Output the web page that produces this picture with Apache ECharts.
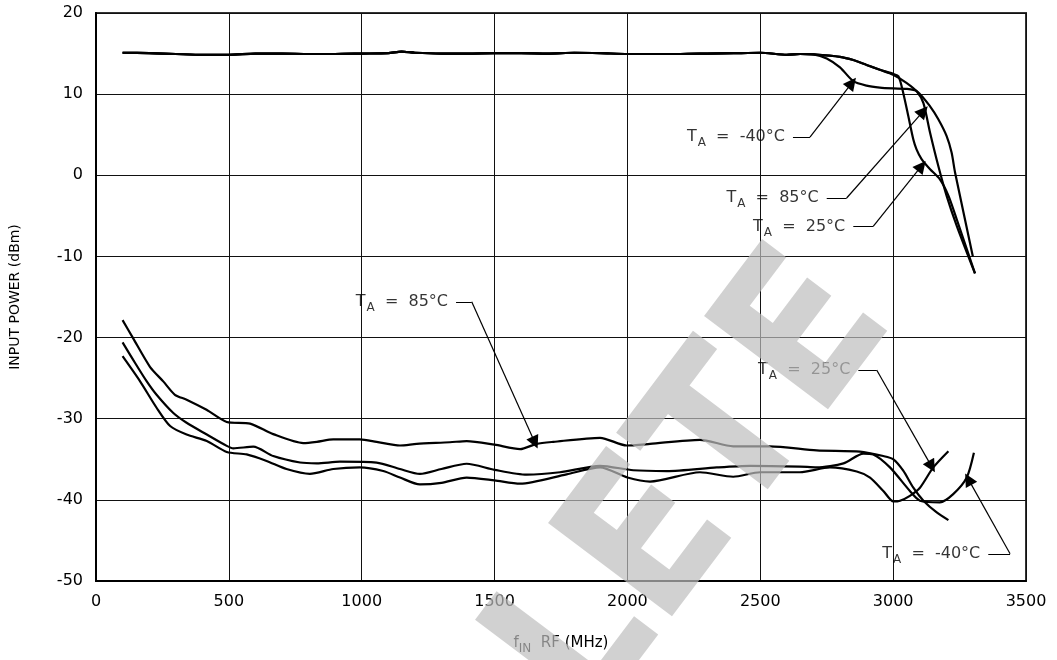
<!DOCTYPE html>
<html>
<head>
<meta charset="utf-8">
<script src="https://cdn.jsdelivr.net/npm/echarts@6/dist/echarts.min.js"></script>
<style>
html,body{margin:0;padding:0;background:#fff;}
#chart{width:1057px;height:660px;}
</style>
</head>
<body>
<div id="chart"></div>
<script>
// ---------- data ----------
const xTicks = [0, 500, 1000, 1500, 2000, 2500, 3000, 3500];
const yTicks = [-50, -40, -30, -20, -10, 0, 10, 20];

// upper curves: common flat part (all three temperatures overlap)
const flatX = [100,200,300,400,500,600,700,800,900,1000,1100,1150,1200,1300,1400,1500,1600,1700,1800,1900,2000,2100,2200,2300,2400,2500,2600,2650,2700];
const flatY = [15.1,15.05,14.95,14.85,14.85,15.0,15.0,14.95,14.95,15.0,15.05,15.25,15.1,15.0,15.0,15.05,15.05,15.0,15.1,15.05,14.95,14.95,14.95,15.0,15.05,15.1,14.85,14.95,14.9];

// upper curves: roll-off tails
const upM40X = [2750,2800,2850,2900,2950,3000,3050,3090,3139,3170,3201,3220,3233,3300];
const upM40Y = [14.4,13.3,11.6,11.05,10.8,10.7,10.65,10.35,8.5,6.9,4.85,2.8,0.35,-10.0];
const up85X = [2800,2850,2900,2950,3000,3050,3090,3114,3139,3170,3201,3239,3308];
const up85Y = [14.6,14.2,13.6,13.0,12.4,11.4,10.3,8.9,5.25,1.15,-2.5,-6.2,-12.1];
const up25X = [2800,2850,2900,2950,3000,3020,3038,3057,3076,3088,3107,3139,3176,3208,3239,3308];
const up25Y = [14.6,14.2,13.6,13.0,12.5,12.2,10.15,7.3,4.4,3.2,2.0,0.75,-0.5,-2.5,-5.4,-12.1];

// lower curves
const lo85X = [100,140,203,253,297,341,416,492,580,667,780,831,893,993,1056,1144,1207,1332,1395,1500,1596,1658,1721,1897,1997,2085,2273,2398,2536,2712,2875,2963,3001,3038,3076,3114,3164,3208];
const lo85Y = [-17.85,-20.1,-23.6,-25.4,-27.05,-27.65,-28.9,-30.4,-30.6,-31.9,-33.0,-32.85,-32.55,-32.55,-32.85,-33.3,-33.1,-32.9,-32.75,-33.2,-33.75,-33.1,-32.85,-32.35,-33.3,-33.1,-32.6,-33.4,-33.4,-33.9,-34.05,-34.6,-35.0,-36.4,-38.5,-40.1,-41.55,-42.5];
const loM40X = [100,140,191,228,291,341,417,492,517,592,667,768,831,918,1056,1144,1219,1300,1395,1500,1621,1746,1897,2022,2148,2336,2461,2649,2712,2813,2888,2925,2988,3063,3101,3176,3226,3277,3304];
const loM40Y = [-20.6,-22.75,-25.4,-27.05,-29.3,-30.5,-31.95,-33.35,-33.65,-33.45,-34.6,-35.4,-35.5,-35.3,-35.4,-36.2,-36.8,-36.2,-35.55,-36.3,-36.9,-36.6,-35.8,-36.35,-36.45,-36.0,-35.8,-35.9,-36.0,-35.5,-34.3,-34.4,-36.0,-38.9,-40.1,-40.3,-39.3,-37.25,-34.2];
const lo25X = [100,166,228,279,341,417,492,567,642,717,805,893,993,1081,1144,1219,1300,1395,1500,1596,1771,1897,2000,2085,2273,2398,2499,2649,2762,2863,2913,2963,3001,3026,3063,3101,3151,3208];
const lo25Y = [-22.3,-25.4,-28.65,-30.9,-31.95,-32.75,-34.1,-34.4,-35.2,-36.2,-36.8,-36.2,-36.0,-36.45,-37.25,-38.1,-37.9,-37.25,-37.6,-38.0,-36.85,-36.0,-37.25,-37.75,-36.6,-37.15,-36.6,-36.6,-36.0,-36.5,-37.25,-38.9,-40.2,-40.1,-39.5,-38.5,-36.0,-34.0];

// annotations
const noteTemps  = ['-40', '85', '25', '85', '25', '-40'];
const noteX      = [2623, 2750, 2850, 1355, 2869, 3358];   // leader start
const noteY      = [4.7, -2.8, -6.3, -15.6, -24.0, -46.65];
const noteEndX   = [2687, 2825, 2925, 1414, 2938, 3440];   // leader corner
const noteTipX   = [2845, 3114, 3107, 1652, 3145, 3283];   // arrow tip
const noteTipY   = [11.4, 7.9, 1.15, -32.95, -35.9, -37.45];

const axisTitleX = 'RF (MHz)';
const axisTitleY = 'INPUT POWER (dBm)';
const watermark = 'LETE';

// ---------- build ----------
function zip(xs, ys) { return xs.map((x, i) => [x, ys[i]]); }
const FONT = '"DejaVu Sans", sans-serif';

function curve(name, xs, ys, w) {
  return {
    name: name, type: 'line', data: zip(xs, ys), showSymbol: false, symbol: 'none',
    smooth: 0.25,
    lineStyle: { color: '#000', width: w }, z: 3, silent: true
  };
}

const series = [
  curve('upper -40', flatX.concat(upM40X), flatY.concat(upM40Y), 2.2),
  curve('upper 85', flatX.concat(up85X), flatY.concat(up85Y), 2.2),
  curve('upper 25', flatX.concat(up25X), flatY.concat(up25Y), 2.2),
  curve('lower 85', lo85X, lo85Y, 2.2),
  curve('lower -40', loM40X, loM40Y, 2.2),
  curve('lower 25', lo25X, lo25Y, 2.2),
  {
    type: 'lines', coordinateSystem: 'cartesian2d', silent: true, z: 4,
    symbol: ['none', 'none'],
    lineStyle: { color: '#000', width: 1.2, opacity: 1 },
    data: noteX.map((x, i) => ({ coords: [[x, noteY[i]], [noteEndX[i], noteY[i]]] }))
  },
  {
    type: 'lines', coordinateSystem: 'cartesian2d', silent: true, z: 4,
    symbol: ['none', 'triangle'], symbolSize: [5, 13],
    lineStyle: { color: '#000', width: 1.2, opacity: 1 },
    itemStyle: { color: '#000' },
    data: noteX.map((x, i) => ({ coords: [[noteEndX[i], noteY[i]], [noteTipX[i], noteTipY[i]]] }))
  },
  {
    type: 'scatter', symbolSize: 0, silent: true, z: 5,
    data: noteX.map((x, i) => ({ value: [x, noteY[i]], temp: noteTemps[i] })),
    label: {
      show: true, position: 'left', distance: 8, color: '#000',
      formatter: p => '{a|T}{s|A}{a|  =  ' + p.data.temp + '°C}',
      rich: {
        a: { fontFamily: FONT, fontSize: 16, color: '#000' },
        s: { fontFamily: FONT, fontSize: 12, color: '#000', padding: [12, 0, 0, 1] }
      }
    }
  }
];

const chart = echarts.init(document.getElementById('chart'), null, { renderer: 'canvas' });
chart.setOption({
  backgroundColor: '#fff',
  animation: false,
  grid: { left: 96, right: 31, top: 13, bottom: 76, show: true, borderColor: '#333', borderWidth: 2, backgroundColor: 'transparent' },
  xAxis: {
    type: 'value', min: xTicks[0], max: xTicks[xTicks.length - 1], interval: 500,
    name: '{i|f}{s|IN}{g|  ' + axisTitleX + '}', nameLocation: 'middle', nameGap: 50,
    nameTextStyle: { rich: {
      i: { fontFamily: FONT, fontSize: 15, color: '#000' },
      s: { fontFamily: FONT, fontSize: 12, color: '#000', padding: [12, 0, 0, 0] },
      g: { fontFamily: FONT, fontSize: 15, color: '#000' }
    } },
    axisLine: { show: true, onZero: false, lineStyle: { color: '#000', width: 2 } },
    axisTick: { show: false },
    axisLabel: { fontFamily: FONT, fontSize: 16, color: '#000', margin: 13, formatter: v => String(v) },
    splitLine: { show: true, lineStyle: { color: '#111', width: 1 } }
  },
  yAxis: {
    type: 'value', min: yTicks[0], max: yTicks[yTicks.length - 1], interval: 10,
    name: axisTitleY, nameLocation: 'middle', nameGap: 74, nameRotate: 90,
    nameTextStyle: { fontFamily: FONT, fontSize: 14, color: '#000' },
    axisLine: { show: true, onZero: false, lineStyle: { color: '#000', width: 2 } },
    axisTick: { show: false },
    axisLabel: { fontFamily: FONT, fontSize: 16, color: '#000', margin: 13, formatter: v => String(v) },
    splitLine: { show: true, lineStyle: { color: '#111', width: 1 } }
  },
  graphic: [{
    type: 'text', z: 100, silent: true,
    x: 698, y: 490, rotation: 53 * Math.PI / 180, scaleY: 1.12,
    style: {
      text: watermark, x: 0, y: 0, align: 'center', verticalAlign: 'middle',
      font: 'bold 190px "DejaVu Sans"', fill: 'rgba(190,190,190,0.7)'
    }
  }],
  series: series
});
</script>
</body>
</html>
